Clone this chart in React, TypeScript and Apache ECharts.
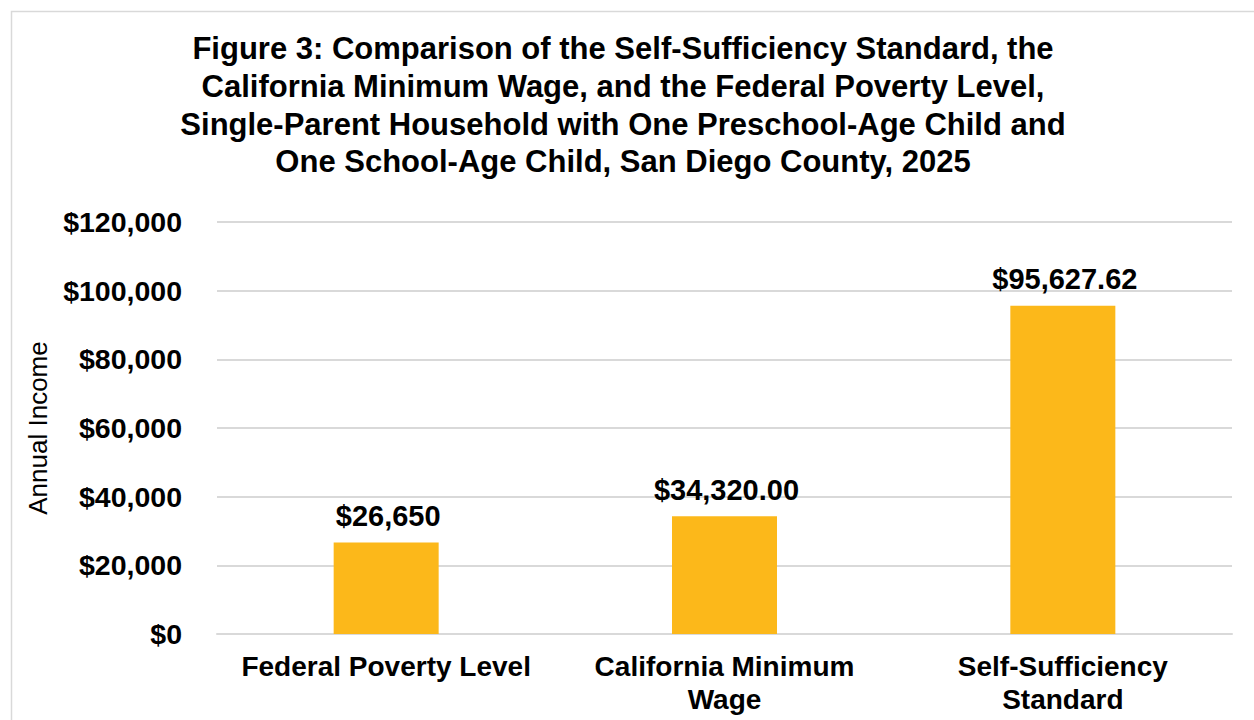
import React, { useEffect, useRef } from "react";
import * as echarts from "echarts";

const categories = ["Federal Poverty Level", "California Minimum\nWage", "Self-Sufficiency\nStandard"];
const values = [26650, 34320.0, 95627.62];
const valueLabels = ["$26,650", "$34,320.00", "$95,627.62"];
const yTicks = [0, 20000, 40000, 60000, 80000, 100000, 120000];
const titleText =
  "Figure 3: Comparison of the Self-Sufficiency Standard, the\nCalifornia Minimum Wage, and the Federal Poverty Level,\nSingle-Parent Household with One Preschool-Age Child and\nOne School-Age Child, San Diego County, 2025";

const FONT = "'Liberation Sans', Arial, sans-serif";

export default function App() {
  const ref = useRef<HTMLDivElement>(null);
  useEffect(() => {
    if (!ref.current) return;
    const chart = echarts.init(ref.current, undefined, { renderer: "svg" });
    chart.setOption({
      animation: false,
      backgroundColor: "#ffffff",
      title: {
        text: titleText,
        left: 618,
        top: 25,
        textAlign: "center",
        textStyle: {
          fontFamily: FONT,
          fontWeight: "bold",
          fontSize: 31,
          lineHeight: 37.7,
          color: "#000000",
        },
      },
      graphic: [
        {
          type: "rect",
          shape: { x: 11.5, y: 11.5, width: 1300, height: 800 },
          style: { fill: "none", stroke: "#d9d9d9", lineWidth: 1.5 },
          silent: true,
        },
      ],
      grid: { left: 217, right: 22, top: 222, bottom: 86, containLabel: false },
      xAxis: {
        type: "category",
        data: categories,
        axisLine: { show: true, lineStyle: { color: "#d9d9d9", width: 2 } },
        axisTick: { show: false },
        axisLabel: {
          fontFamily: FONT,
          fontWeight: "bold",
          fontSize: 28,
          lineHeight: 33,
          color: "#000000",
          margin: 16,
          interval: 0,
        },
      },
      yAxis: {
        type: "value",
        min: yTicks[0],
        max: yTicks[yTicks.length - 1],
        interval: 20000,
        name: "Annual Income",
        nameLocation: "middle",
        nameGap: 166,
        nameRotate: 90,
        nameTextStyle: {
          fontFamily: FONT,
          fontSize: 26,
          color: "#000000",
        },
        axisLine: { show: false },
        axisTick: { show: false },
        splitLine: { lineStyle: { color: "#d9d9d9", width: 2 } },
        axisLabel: {
          fontFamily: FONT,
          fontWeight: "bold",
          fontSize: 28.5,
          color: "#000000",
          margin: 35,
          formatter: (v: number) => "$" + v.toLocaleString("en-US"),
        },
      },
      series: [
        {
          type: "bar",
          data: values,
          barWidth: 105,
          itemStyle: { color: "#FCB81A" },
          label: {
            show: true,
            position: "top",
            distance: 12,
            offset: [2, 0],
            fontFamily: FONT,
            fontWeight: "bold",
            fontSize: 29,
            color: "#000000",
            formatter: (p: any) => valueLabels[p.dataIndex],
          },
        },
      ],
    });
    return () => chart.dispose();
  }, []);
  return (
    <div
      ref={ref}
      style={{ position: "absolute", left: 0, top: 0, width: 1254, height: 720 }}
    />
  );
}
